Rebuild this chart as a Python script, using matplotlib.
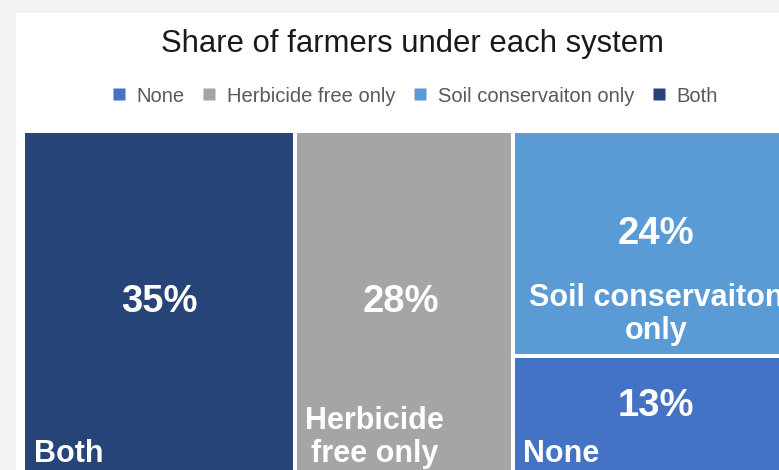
import matplotlib
matplotlib.use('Agg')
import matplotlib.pyplot as plt
from matplotlib.patches import Rectangle
from matplotlib.lines import Line2D

# data
categories = ['Both', 'Herbicide free only', 'Soil conservaiton only', 'None']
shares = [35, 28, 24, 13]
tile_labels = ['Both', 'Herbicide\nfree only', 'Soil conservaiton\nonly', 'None']
legend_order = ['None', 'Herbicide free only', 'Soil conservaiton only', 'Both']

colors = {'Both': '#264478', 'Herbicide free only': '#a5a5a5',
          'Soil conservaiton only': '#5b9bd5', 'None': '#4472c4'}

plt.rcParams['font.family'] = ['Liberation Sans', 'DejaVu Sans']

W, H = 779, 470
fig = plt.figure(figsize=(W / 100, H / 100), dpi=100, facecolor='#f2f2f2')

# white chart panel
fig.patches.append(Rectangle((16 / W, 0), 1, (H - 13) / H, transform=fig.transFigure,
                             facecolor='white', edgecolor='none', zorder=-5))

fig.text(412 / W, (H - 44) / H, 'Share of farmers under each system', ha='center', va='center',
         fontsize=22.3, color='#1a1a1a')

handles = [Line2D([], [], marker='s', linestyle='none', markersize=8.5,
                  markerfacecolor=colors[c], markeredgecolor='none') for c in legend_order]
fig.legend(handles, legend_order, loc='center', bbox_to_anchor=(415 / W, (H - 96) / H),
           ncol=4, frameon=False, fontsize=14.5, labelcolor='#595959', handlelength=0.65,
           handletextpad=0.55, columnspacing=0.9)

# treemap layout: two full columns, last column split vertically
ax = fig.add_axes([23 / W, -8 / H, 777 / W, 347 / H])
ax.set_xlim(0, 1)
ax.set_ylim(0, 1)
ax.axis('off')

total = float(sum(shares))
rects = []
x = 0
for v in shares[:2]:
    rects.append((x, 0, v / total, 1))
    x += v / total
rest = sum(shares[2:])
y = 1
for v in shares[2:]:
    h = v / rest
    rects.append((x, y - h, rest / total, h))
    y -= h

# percentage offset from tile centre, px
pct_dy = [2, 2, 10, 11]
for i, (cat, v, lab) in enumerate(zip(categories, shares, tile_labels)):
    rx, ry, rw, rh = rects[i]
    ax.add_patch(Rectangle((rx, ry), rw, rh, facecolor=colors[cat], edgecolor='white', linewidth=2.9))
    cx, cy = rx + rw / 2, ry + rh / 2
    ax.annotate('{}%'.format(v), xy=(cx, cy), xytext=(-3 if i == 1 else 0, pct_dy[i]),
                textcoords='offset pixels', ha='center', va='center', color='white',
                fontsize=27.5, fontweight='bold')
    if i == 2:
        ax.annotate(lab, xy=(cx, cy), xytext=(0, -71), textcoords='offset pixels',
                    ha='center', va='center', multialignment='center', color='white',
                    fontsize=22, fontweight='bold', linespacing=1.13)
    else:
        ax.annotate(lab, xy=(rx, ry), xytext=(11 if i == 0 else 10, 16), textcoords='offset pixels',
                    ha='left', va='baseline', multialignment='center', color='white',
                    fontsize=22, fontweight='bold', linespacing=1.13)

fig.savefig('out.png', dpi=100, facecolor=fig.get_facecolor())
